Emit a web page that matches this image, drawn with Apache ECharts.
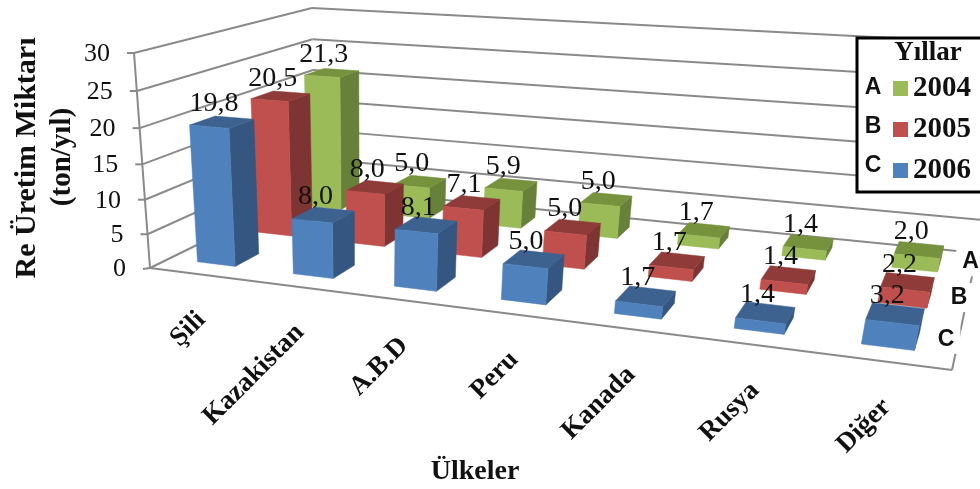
<!DOCTYPE html>
<html>
<head>
<meta charset="utf-8">
<style>html,body{margin:0;padding:0;background:#fff}#chart{width:980px;height:489px}</style>
<script src="https://cdn.jsdelivr.net/npm/echarts@6/dist/echarts.min.js"></script>
</head>
<body>
<div id="chart"></div>
<script>
// Rhenium output by country and year
const categories = ['Şili', 'Kazakistan', 'A.B.D', 'Peru', 'Kanada', 'Rusya', 'Diğer'];
const years = ['2004', '2005', '2006'];
const rowLetters = ['A', 'B', 'C'];
const values2004 = [21.3, 5.0, 5.9, 5.0, 1.7, 1.4, 2.0];
const values2005 = [20.5, 8.0, 7.1, 5.0, 1.7, 1.4, 2.2];
const values2006 = [19.8, 8.0, 8.1, 5.0, 1.7, 1.4, 3.2];
const valueTicks = [0, 5, 10, 15, 20, 25, 30];

// Corners of the box the bars stand in, as seen on the page
const FL = [150, 268], FR = [952, 370], BR = [977, 253], BL = [315, 187];
const TOP_FL = [134, 53], TOP_BL = [309, 8];

// Projective map from box coordinates (u along countries, v into depth, w up) to the page
const dx1 = FR[0] - BR[0], dx2 = BL[0] - BR[0], sx = FL[0] - FR[0] + BR[0] - BL[0];
const dy1 = FR[1] - BR[1], dy2 = BL[1] - BR[1], sy = FL[1] - FR[1] + BR[1] - BL[1];
const den = dx1 * dy2 - dx2 * dy1;
const g = (sx * dy2 - dx2 * sy) / den, h = (dx1 * sy - sx * dy1) / den;
const a = FR[0] - FL[0] + g * FR[0], b = BL[0] - FL[0] + h * BL[0], c = FL[0];
const d = FR[1] - FL[1] + g * FR[1], e = BL[1] - FL[1] + h * BL[1], f = FL[1];
const r = (TOP_BL[1] * (h + 1) - e - TOP_FL[1]) / (TOP_FL[1] - TOP_BL[1]);
const p = TOP_FL[0] * (1 + r) - c, q = TOP_FL[1] * (1 + r) - f;
function project(u, v, w) {
  const n = g * u + h * v + 1 + r * w;
  return [(a * u + b * v + c + p * w) / n, (d * u + e * v + f + q * w) / n];
}

const BAR_WIDTH = 0.4, BAR_DEPTH = 0.4;
const SERIF = '"Liberation Serif", "Times New Roman", serif';
const SANS = '"Liberation Sans", Arial, sans-serif';
const WALL = '#8a8a8a';
const faces = [
  { front: '#9BBB59', top: '#76923C', side: '#68813A' },
  { front: '#C0504D', top: '#8E3B39', side: '#7D3432' },
  { front: '#4F81BD', top: '#3D6290', side: '#345680' }
];
const rowCenter = row => 1 - (row + 0.5) / 3;

// Reads a datum through the hidden cartesian axes into box coordinates
function boxCoords(params, api) {
  const cs = params.coordSys;
  const pt = api.coord([api.value(0), api.value(1)]);
  return {
    u: (pt[0] - cs.x) / cs.width,
    w: (cs.y + cs.height - pt[1]) / cs.height,
    halfU: api.size([1, 0])[0] / cs.width * BAR_WIDTH / 2
  };
}

function renderBar(row) {
  return function (params, api) {
    const { u, w, halfU } = boxCoords(params, api);
    const vc = rowCenter(row), hv = BAR_DEPTH / 3 / 2;
    const u0 = u - halfU, u1 = u + halfU, v0 = vc - hv, v1 = vc + hv;
    const poly = (pts, fill) => ({ type: 'polygon', shape: { points: pts }, style: { fill: fill, stroke: fill, lineWidth: 0.5 } });
    return {
      type: 'group',
      children: [
        poly([project(u1, v0, 0), project(u1, v1, 0), project(u1, v1, w), project(u1, v0, w)], faces[row].side),
        poly([project(u0, v0, w), project(u1, v0, w), project(u1, v1, w), project(u0, v1, w)], faces[row].top),
        poly([project(u0, v0, 0), project(u1, v0, 0), project(u1, v0, w), project(u0, v0, w)], faces[row].front)
      ]
    };
  };
}

function renderValueLabel(row) {
  return function (params, api) {
    const { u, w } = boxCoords(params, api);
    const pt = project(u, rowCenter(row), w);
    return {
      type: 'text', x: pt[0] - 8, y: pt[1] - 18,
      style: { text: api.value(1).toFixed(1).replace('.', ','), font: '28px ' + SERIF, fill: '#111', align: 'center', verticalAlign: 'middle' }
    };
  };
}

function renderWall(params, api) {
  const { w } = boxCoords(params, api);
  const line = (s, t) => ({ type: 'line', shape: { x1: s[0], y1: s[1], x2: t[0], y2: t[1] }, style: { stroke: WALL, lineWidth: 2 } });
  const front = project(0, 0, w), back = project(0, 1, w), right = project(1, 1, w);
  const children = [
    line(front, back), line(back, right),
    line(front, [front[0] - 7, front[1] + (w === 0 ? 1 : 0)]),
    { type: 'text', x: front[0] - 24, y: front[1] + 1, style: { text: String(api.value(1)), font: '26px ' + SERIF, fill: '#111', align: 'right', verticalAlign: 'middle' } }
  ];
  if (w === 0) {
    children.push(line(project(0, 0, 0), project(1, 0, 0)), line(project(1, 0, 0), project(1, 1, 0)), line(project(0, 0, 0), project(0, 0, 1)));
  }
  return { type: 'group', children: children };
}

function renderCategoryLabel(params, api) {
  const { u } = boxCoords(params, api);
  const pt = project(u, 0, 0);
  return {
    type: 'text', x: pt[0] + 4, y: pt[1] + 42, rotation: Math.PI / 4,
    style: { text: categories[api.value(0)], font: 'bold 27px ' + SERIF, fill: '#111', align: 'right', verticalAlign: 'middle' }
  };
}

function renderRowLetter(params, api) {
  const row = params.dataIndex;
  const pt = project(1, rowCenter(row), 0);
  return {
    type: 'text', x: pt[0] - 3 - 4 * row, y: pt[1] - 7,
    style: { text: rowLetters[row], font: 'bold 23px ' + SANS, fill: '#111', align: 'center', verticalAlign: 'middle', backgroundColor: '#fff', padding: [3, 6] }
  };
}

const rowValues = [values2004, values2005, values2006];
const series = [
  { type: 'custom', name: 'duvar', renderItem: renderWall, data: valueTicks.map(t => [0, t]), silent: true, z: 1 }
];
years.forEach((year, row) => {
  series.push({
    type: 'custom', name: year, renderItem: renderBar(row), itemStyle: { color: faces[row].front },
    data: rowValues[row].map((v, i) => [i, v]), silent: true, z: 2 + row
  });
});
years.forEach((year, row) => {
  series.push({
    type: 'custom', name: 'etiket ' + year, renderItem: renderValueLabel(row),
    data: rowValues[row].map((v, i) => [i, v]), silent: true, z: 6
  });
});
series.push(
  { type: 'custom', name: 'ülke', renderItem: renderCategoryLabel, data: categories.map((c, i) => [i, 0]), silent: true, z: 6 },
  { type: 'custom', name: 'sıra', renderItem: renderRowLetter, data: rowLetters.map(() => [0, 0]), silent: true, z: 5 }
);

const chart = echarts.init(document.getElementById('chart'), null, { renderer: 'canvas' });
chart.setOption({
  animation: false,
  backgroundColor: '#fff',
  grid: { left: 150, top: 50, width: 800, height: 220 },
  xAxis: { type: 'category', data: categories, show: false },
  yAxis: { type: 'value', min: 0, max: 30, interval: 5, show: false },
  legend: {
    data: years.map(y => ({ name: y, icon: 'rect' })),
    orient: 'vertical', left: 893, top: 74, itemWidth: 15, itemHeight: 15, itemGap: 12, padding: 0, z: 12,
    selectedMode: false,
    textStyle: { fontFamily: SERIF, fontWeight: 'bold', fontSize: 29, color: '#111' }
  },
  graphic: [
    { type: 'text', z: 10, silent: true, x: 27, y: 158, rotation: Math.PI / 2,
      style: { text: 'Re Üretim Miktarı', font: 'bold 30px ' + SERIF, fill: '#111', align: 'center', verticalAlign: 'middle' } },
    { type: 'text', z: 10, silent: true, x: 63, y: 157, rotation: Math.PI / 2,
      style: { text: '(ton/yıl)', font: 'bold 29px ' + SERIF, fill: '#111', align: 'center', verticalAlign: 'middle' } },
    { type: 'text', z: 10, silent: true, x: 475, y: 472,
      style: { text: 'Ülkeler', font: 'bold 28px ' + SERIF, fill: '#111', align: 'center', verticalAlign: 'middle' } },
    { type: 'rect', z: 11, silent: true, shape: { x: 857, y: 38, width: 130, height: 154 }, style: { fill: '#fff', stroke: '#000', lineWidth: 3 } },
    { type: 'text', z: 12, silent: true, x: 928, y: 53, style: { text: 'Yıllar', font: 'bold 27px ' + SERIF, fill: '#111', align: 'center', verticalAlign: 'middle' } },
    ...rowLetters.map((t, i) => ({
      type: 'text', z: 12, silent: true, x: 873, y: 88 + i * 39,
      style: { text: t, font: 'bold 23px ' + SANS, fill: '#111', align: 'center', verticalAlign: 'middle' }
    }))
  ],
  series: series
});
</script>
</body>
</html>
